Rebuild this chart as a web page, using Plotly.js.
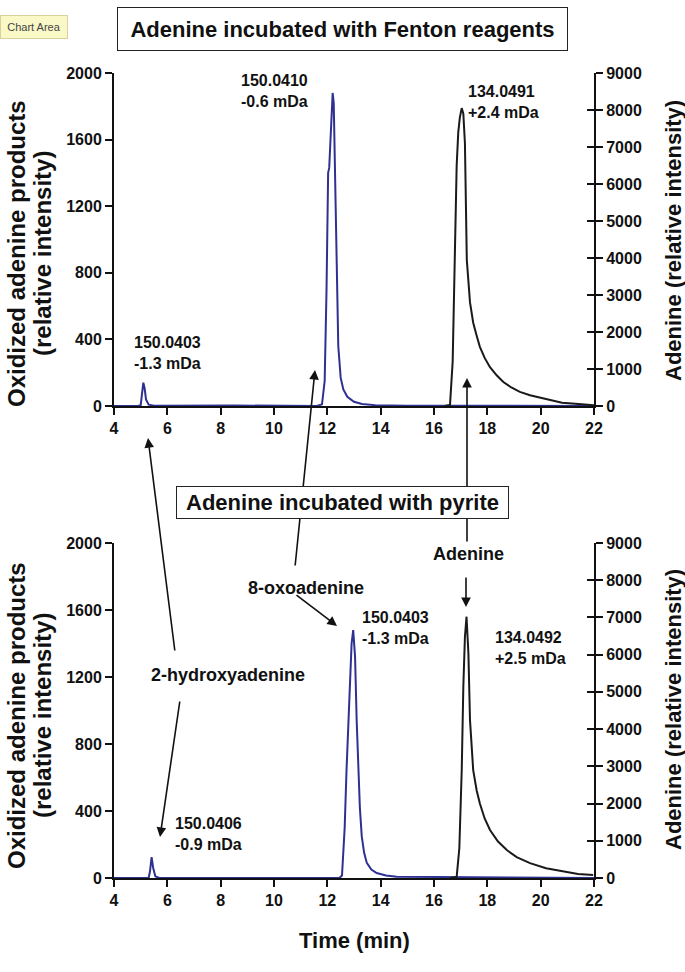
<!DOCTYPE html>
<html>
<head>
<meta charset="utf-8">
<script src="https://cdn.plot.ly/plotly-3.0.1.min.js"></script>
<style>
  body { margin: 0; background: #fff; }
  #chart { width: 685px; height: 972px; }
</style>
</head>
<body>
<div id="chart"></div>
<script>
// Fenton reagents: oxidized adenine products (left axis) and adenine (right axis)
var fentonOxTime = [4, 4.9, 5.0, 5.05, 5.1, 5.15, 5.2, 5.3, 5.5, 8.5, 11.6, 11.8, 11.9, 11.97, 12.03, 12.07, 12.12, 12.16, 12.2, 12.24, 12.29, 12.35, 12.41, 12.5, 12.6, 12.75, 13.0, 13.3, 13.8, 15, 22]
var fentonOx     = [0, 0, 5, 60, 140, 105, 40, 8, 2, 3, 0, 10, 150, 700, 1400, 1430, 1650, 1780, 1880, 1820, 1420, 780, 360, 170, 100, 55, 25, 12, 5, 2, 0]
var fentonAdTime = [16.4, 16.6, 16.7, 16.79, 16.85, 16.91, 16.97, 17.04, 17.1, 17.16, 17.23, 17.35, 17.47, 17.6, 17.72, 17.9, 18.1, 18.35, 18.6, 18.9, 19.22, 19.6, 20.1, 20.5, 20.8, 21.3, 21.8, 22]
var fentonAd     = [0, 30, 1200, 4600, 6500, 7400, 7800, 8050, 7900, 7100, 3950, 2800, 2250, 1900, 1600, 1300, 1050, 830, 650, 500, 380, 290, 210, 140, 90, 60, 35, 20]

// pyrite
var pyriteOxTime = [4, 5.3, 5.35, 5.41, 5.47, 5.55, 5.7, 12.45, 12.55, 12.65, 12.72, 12.8, 12.85, 12.91, 12.97, 13.04, 13.1, 13.16, 13.22, 13.29, 13.38, 13.48, 13.65, 13.85, 14.2, 14.6, 22]
var pyriteOx     = [0, 0, 40, 125, 60, 10, 0, 0, 15, 300, 645, 950, 1140, 1400, 1480, 1320, 940, 640, 420, 250, 150, 90, 50, 30, 15, 8, 0]
var pyriteAdTime = [16.6, 16.85, 16.95, 17.04, 17.1, 17.16, 17.22, 17.29, 17.35, 17.47, 17.6, 17.72, 17.9, 18.1, 18.4, 18.73, 19.1, 19.6, 20.2, 20.85, 21.4, 21.97]
var pyriteAd     = [0, 30, 800, 2900, 5140, 6480, 7020, 6040, 4240, 2900, 2350, 2000, 1600, 1290, 980, 750, 560, 400, 260, 170, 110, 80]

var panelTitles = ['Adenine incubated with Fenton reagents', 'Adenine incubated with pyrite']
var peakLabels = ['150.0403<br>-1.3 mDa', '150.0410<br>-0.6 mDa', '134.0491<br>+2.4 mDa',
                  '150.0406<br>-0.9 mDa', '150.0403<br>-1.3 mDa', '134.0492<br>+2.5 mDa']
var compoundNames = ['2-hydroxyadenine', '8-oxoadenine', 'Adenine']

var BLUE = '#2e3192'
var BLACK = '#1a1a1a'
var FONT = 'Liberation Sans, Arial, sans-serif'

// plot area in pixels, used to place the annotations
var L = 114, R = 594, T = 73, B = 878
function fx(p) { return (p - L) / (R - L) }
function fy(p) { return (B - p) / (B - T) }

var data = [
  {x: fentonOxTime, y: fentonOx, xaxis: 'x', yaxis: 'y', type: 'scatter', mode: 'lines',
   line: {color: BLUE, width: 2}},
  {x: fentonAdTime, y: fentonAd, xaxis: 'x', yaxis: 'y2', type: 'scatter', mode: 'lines',
   line: {color: BLACK, width: 2}},
  {x: pyriteOxTime, y: pyriteOx, xaxis: 'x2', yaxis: 'y3', type: 'scatter', mode: 'lines',
   line: {color: BLUE, width: 2}},
  {x: pyriteAdTime, y: pyriteAd, xaxis: 'x2', yaxis: 'y4', type: 'scatter', mode: 'lines',
   line: {color: BLACK, width: 2}},
  // empty traces so the inward tick copies of the right axes get drawn
  {x: [], y: [], xaxis: 'x', yaxis: 'y5', type: 'scatter', mode: 'lines', hoverinfo: 'skip'},
  {x: [], y: [], xaxis: 'x2', yaxis: 'y6', type: 'scatter', mode: 'lines', hoverinfo: 'skip'}
]

var tickFont = {family: FONT, size: 16, color: '#111', weight: 'bold'}
function xAx(anchor) {
  return {anchor: anchor, domain: [0, 1], range: [4, 22], dtick: 2, tick0: 4,
    showgrid: false, zeroline: false, showline: true, linecolor: '#111', linewidth: 2,
    ticks: 'outside', ticklen: 7, tickwidth: 2, tickcolor: '#111', tickfont: tickFont}
}
function yAx(dom, max, step, side, anchor, overlay) {
  var a = {domain: dom, range: [0, max], dtick: step, side: side, anchor: anchor,
    showgrid: false, zeroline: false, showline: true, linecolor: '#111', linewidth: 2,
    ticks: 'outside', ticklen: 7, tickwidth: 2, tickcolor: '#111', tickfont: tickFont}
  if (overlay) a.overlaying = overlay
  return a
}
function innerTicks(dom, anchor, overlay) {
  return {domain: dom, range: [0, 9000], dtick: 1000, side: 'right', anchor: anchor,
    overlaying: overlay, showgrid: false, zeroline: false, showline: false,
    showticklabels: false, ticks: 'inside', ticklen: 7, tickwidth: 2, tickcolor: '#111'}
}
var topDom = [fy(406), 1]
var botDom = [0, fy(543)]

var layout = {
  width: 685, height: 972,
  margin: {l: L, r: 685 - R, t: T, b: 972 - B},
  paper_bgcolor: '#fff', plot_bgcolor: 'rgba(0,0,0,0)',
  showlegend: false,
  font: {family: FONT, color: '#111'},
  xaxis: xAx('y'),
  xaxis2: xAx('y3'),
  yaxis: yAx(topDom, 2000, 400, 'left', 'x'),
  yaxis2: yAx(topDom, 9000, 1000, 'right', 'x', 'y'),
  yaxis3: yAx(botDom, 2000, 400, 'left', 'x2'),
  yaxis4: yAx(botDom, 9000, 1000, 'right', 'x2', 'y3'),
  yaxis5: innerTicks(topDom, 'x', 'y'),
  yaxis6: innerTicks(botDom, 'x2', 'y3'),
  annotations: []
}

var ann = layout.annotations
function txt(text, x, y, size, xanchor, extra) {
  var a = {text: text, x: fx(x), y: fy(y), xref: 'paper', yref: 'paper', showarrow: false,
    xanchor: xanchor || 'center', yanchor: 'middle', align: xanchor || 'center',
    font: {family: FONT, size: size, color: '#111', weight: 'bold'}}
  for (var k in extra) a[k] = extra[k]
  ann.push(a)
}
function arrow(tailX, tailY, tipX, tipY) {
  ann.push({text: '', x: fx(tipX), y: fy(tipY), xref: 'paper', yref: 'paper',
    showarrow: true, ax: tailX - tipX, ay: tailY - tipY,
    arrowhead: 2, arrowsize: 1.2, arrowwidth: 1.6, arrowcolor: '#111', standoff: 0})
}

// axis titles
txt('Oxidized adenine products', 16, 254, 24, 'center', {textangle: -90})
txt('(relative intensity)', 42, 254, 24, 'center', {textangle: -90})
txt('Oxidized adenine products', 16, 716, 24, 'center', {textangle: -90})
txt('(relative intensity)', 42, 716, 24, 'center', {textangle: -90})
txt('Adenine (relative intensity)', 673, 241, 22, 'center', {textangle: -90})
txt('Adenine (relative intensity)', 673, 710, 22, 'center', {textangle: -90})
txt('Time (min)', 354, 940, 22)

// peak labels
txt(peakLabels[0], 132, 353, 16, 'left')
txt(peakLabels[1], 239, 91, 16, 'left')
txt(peakLabels[2], 466, 102, 16, 'left')
txt(peakLabels[3], 173, 834, 16, 'left')
txt(peakLabels[4], 360, 628, 16, 'left')
txt(peakLabels[5], 493, 648, 16, 'left')

// arrows
arrow(175, 652, 148, 438)
arrow(180, 700, 160, 837)
arrow(295, 567, 315, 370)
arrow(295, 594, 337, 626)
arrow(467, 543, 467, 378)
arrow(466, 576, 466, 607)

// compound names
txt(compoundNames[0], 228, 675, 18)
txt(compoundNames[1], 306, 588, 18)
txt(compoundNames[2], 468, 554, 18)

// boxed panel titles (drawn after the arrows so they cover them)
txt(panelTitles[0], 342, 29, 22, 'center',
  {bgcolor: '#fff', bordercolor: '#222', borderwidth: 1, width: 447, height: 40})
txt(panelTitles[1], 342, 502, 22, 'center',
  {bgcolor: '#fff', bordercolor: '#222', borderwidth: 1, width: 329, height: 29})

// screenshot tooltip
ann.push({text: 'Chart Area', x: fx(34), y: fy(27), xref: 'paper', yref: 'paper', showarrow: false,
  xanchor: 'center', yanchor: 'middle', width: 64, height: 20,
  bgcolor: '#fbf8c8', bordercolor: '#d8d29a', borderwidth: 1,
  font: {family: FONT, size: 11, color: '#444'}})

Plotly.newPlot('chart', data, layout, {displayModeBar: false, staticPlot: true})
</script>
</body>
</html>
